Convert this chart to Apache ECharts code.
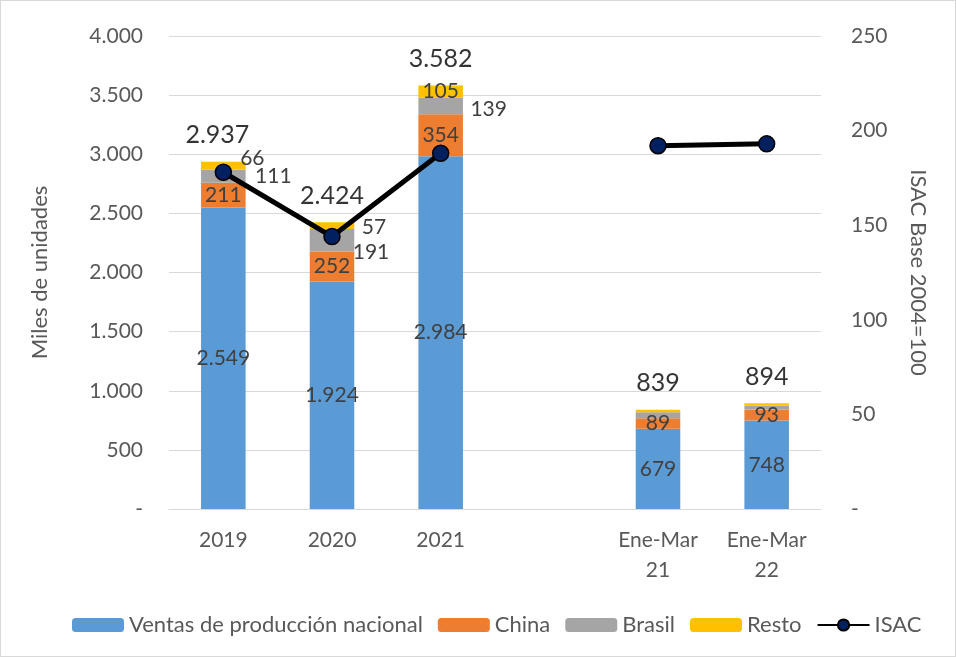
<!DOCTYPE html>
<html>
<head>
<meta charset="utf-8">
<script src="https://cdn.jsdelivr.net/npm/echarts@6/dist/echarts.min.js"></script>
<style>
  html, body { margin: 0; padding: 0; background: #fff; }
  #chart { width: 956px; height: 657px; box-sizing: border-box; border: 1px solid #d9d9d9; }
</style>
</head>
<body>
<div id="chart"></div>
<script>
var categories = ['2019', '2020', '2021', '', 'Ene-Mar\n21', 'Ene-Mar\n22'];
var nacional = [2549, 1924, 2984, null, 679, 748];
var china = [211, 252, 354, null, 89, 93];
var brasil = [111, 191, 139, null, 50, 35];
var resto = [66, 57, 105, null, 21, 18];
var totales = [2937, 2424, 3582, null, 839, 894];
var isac = [178, 144, 188, null, 192, 193];
var leftTicks = [0, 500, 1000, 1500, 2000, 2500, 3000, 3500, 4000];
var rightTicks = [0, 50, 100, 150, 200, 250];

(function() {
  var font = 'Lato, "Open Sans", sans-serif';
  var labelColor = '#404040';
  var axisColor = '#595959';

  function fmt(v) {
    if (v === 0) return '-';
    return String(v).replace(/\B(?=(\d{3})+(?!\d))/g, '.');
  }

  // label offsets for the small segments (placed by hand in the original)
  var brasilOffsets = [[50, 0], [39, 12], [48, 3], null, null, null];
  var restoOffsets = [[29, -7], [42, 2], [0, 0], null, null, null];
  var totalOffsets = [[-6, 0], [0, 0], [0, 0], null, [0, 0], [0, 0]];

  function withLabels(values, offsets) {
    return values.map(function(v, i) {
      if (v == null) return null;
      var off = offsets[i];
      return {
        value: v,
        label: off ? { show: true, position: 'inside', offset: off } : { show: false }
      };
    });
  }

  var chart = echarts.init(document.getElementById('chart'), null, { renderer: 'canvas' });

  var barLabel = {
    show: true,
    position: 'inside',
    color: labelColor,
    fontSize: 21,
    fontFamily: font,
    formatter: function(p) { return fmt(p.value); }
  };

  chart.setOption({
    backgroundColor: '#fff',
    animation: false,
    textStyle: { fontFamily: font },
    grid: { left: 168, right: 134, top: 35, bottom: 147 },
    legend: {
      data: ['Ventas de producción nacional', 'China', 'Brasil', 'Resto', 'ISAC'],
      top: 608,
      left: 66,
      itemWidth: 52,
      itemHeight: 14,
      itemGap: 15,
      textStyle: { color: axisColor, fontSize: 22, fontFamily: font }
    },
    xAxis: {
      type: 'category',
      data: categories,
      axisTick: { show: false },
      axisLine: { lineStyle: { color: '#d9d9d9' } },
      axisLabel: { color: axisColor, fontSize: 21, lineHeight: 30, margin: 16 }
    },
    yAxis: [{
      type: 'value',
      min: 0,
      max: 4000,
      interval: 500,
      name: 'Miles de unidades',
      nameLocation: 'middle',
      nameGap: 118,
      nameTextStyle: { color: axisColor, fontSize: 22 },
      axisLabel: { color: axisColor, fontSize: 21, margin: 26, formatter: fmt },
      axisLine: { show: false },
      axisTick: { show: false },
      splitLine: { lineStyle: { color: '#d9d9d9' } }
    }, {
      type: 'value',
      min: 0,
      max: 250,
      interval: 50,
      name: 'ISAC Base 2004=100',
      nameLocation: 'middle',
      nameGap: 86,
      nameRotate: -90,
      nameTextStyle: { color: axisColor, fontSize: 22 },
      axisLabel: { color: axisColor, fontSize: 21, margin: 30, formatter: fmt },
      axisLine: { show: false },
      axisTick: { show: false },
      splitLine: { show: false }
    }],
    series: [
      {
        name: 'Ventas de producción nacional',
        type: 'bar',
        stack: 'ventas',
        barWidth: '41%',
        itemStyle: { color: '#5B9BD5' },
        label: barLabel,
        data: nacional
      },
      {
        name: 'China',
        type: 'bar',
        stack: 'ventas',
        itemStyle: { color: '#ED7D31' },
        label: barLabel,
        data: china
      },
      {
        name: 'Brasil',
        type: 'bar',
        stack: 'ventas',
        itemStyle: { color: '#A5A5A5' },
        label: barLabel,
        data: withLabels(brasil, brasilOffsets)
      },
      {
        name: 'Resto',
        type: 'bar',
        stack: 'ventas',
        itemStyle: { color: '#FFC000' },
        label: barLabel,
        data: withLabels(resto, restoOffsets)
      },
      {
        name: 'Total',
        type: 'scatter',
        symbolSize: 0,
        silent: true,
        label: {
          show: true,
          position: 'top',
          distance: 14,
          color: '#000',
          fontSize: 25,
          fontFamily: font,
          formatter: function(p) { return fmt(p.value); }
        },
        data: totales.map(function(v, i) {
          return v == null ? null : { value: v, label: { offset: totalOffsets[i] } };
        }),
        z: 5
      },
      {
        name: 'ISAC',
        type: 'line',
        yAxisIndex: 1,
        connectNulls: false,
        symbol: 'circle',
        symbolSize: 16,
        lineStyle: { color: '#000', width: 5 },
        itemStyle: { color: '#002060', borderColor: '#000', borderWidth: 1.5 },
        data: isac,
        z: 4
      }
    ]
  });

  window.addEventListener('resize', function() { chart.resize(); });
})();
</script>
</body>
</html>
